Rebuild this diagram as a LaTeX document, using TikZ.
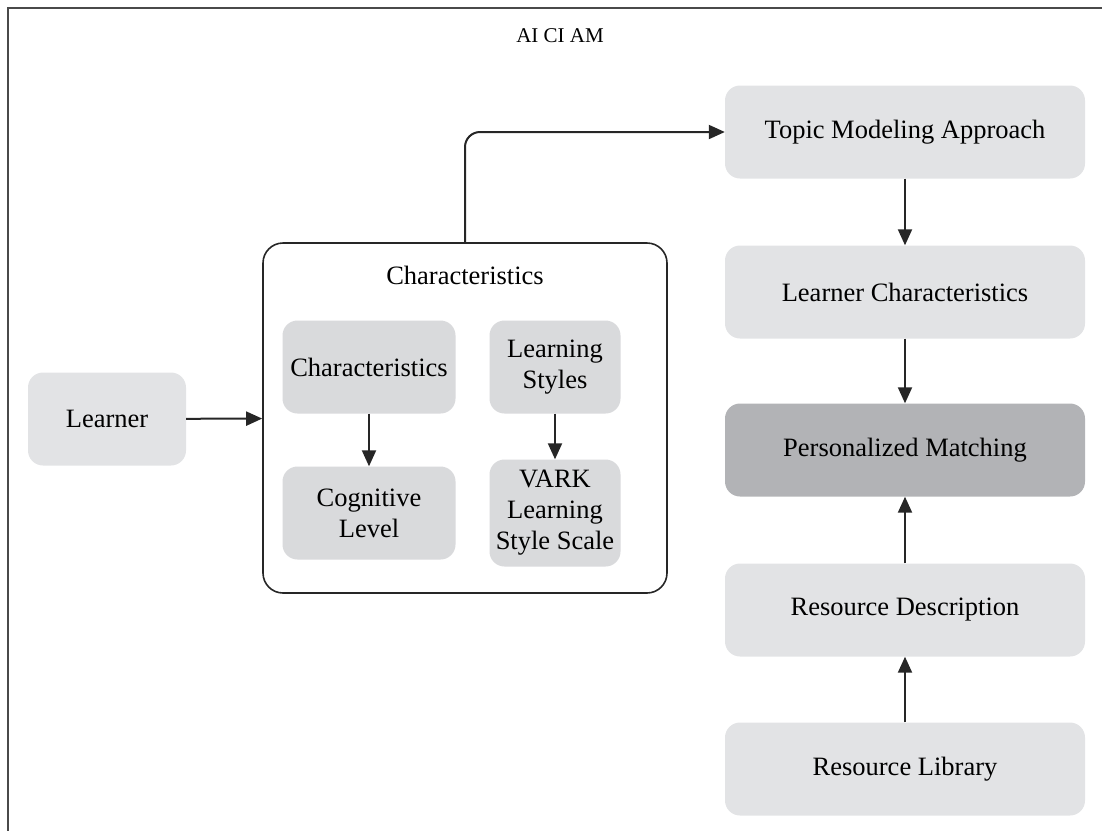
\documentclass[tikz,border=0pt]{standalone}
\usepackage{fontspec}
\setmainfont{Liberation Serif}
\usetikzlibrary{positioning,arrows.meta}
\definecolor{boxgray}{HTML}{E2E3E5}
\definecolor{innergray}{HTML}{D9DADC}
\definecolor{matchgray}{HTML}{B2B3B6}
\definecolor{framegray}{HTML}{4A4A4A}

\begin{document}
\begin{tikzpicture}[x=1pt,y=-1pt,
  box/.style={fill=boxgray,rounded corners=15pt,minimum width=360pt,minimum height=93pt,align=center,inner sep=0pt,font=\fontsize{26.5}{31}\selectfont},
  innerbox/.style={box,fill=innergray,minimum width=173pt},
  arr/.style={-{Triangle[length=16pt,width=14pt]},line width=2pt,black!85}]
\useasboundingbox (0,0) rectangle (1102,831);
% outer frame (cut at right and bottom)
\draw[framegray,line width=2.6pt] (1102,8) -- (8,8) -- (8,831);
\node[font=\fontsize{21}{25}\selectfont] (title) at (560,36) {AI CI AM};

% right column
\node[box] (topic) at (905,132) {Topic Modeling Approach};
\node[box] (lchar) at (905,292) {Learner Characteristics};
\node[box,fill=matchgray] (match) at (905,450) {Personalized Matching};
\node[box] (rdesc) at (905,610) {Resource Description};
\node[box] (rlib) at (905,769) {Resource Library};

% learner and its characteristics
\node[box,minimum width=158pt] (learner) at (107,419) {Learner};
\node[draw,line width=1.6pt,black!85,fill=white,rounded corners=20pt,minimum width=404pt,minimum height=350pt] (chars) at (465,418) {};
\node[font=\fontsize{26.5}{31}\selectfont] (chtitle) at (465,275) {Characteristics};
\node[innerbox] (ichar) at (369,367) {Characteristics};
\node[innerbox] (cogn) at (369,513) {Cognitive\\Level};
\node[innerbox,minimum width=131pt] (lstyle) at (555,367) {Learning\\Styles};
\node[innerbox,minimum width=131pt,minimum height=107pt] (vark) at (555,513) {VARK\\Learning\\Style Scale};

\draw[arr] (learner) -- (chars);
\draw[arr] (ichar) -- (cogn);
\draw[arr] (lstyle) -- (vark);
\draw[arr,rounded corners=15pt] (chars.north) |- (topic.west);
\draw[arr] (topic) -- (lchar);
\draw[arr] (lchar) -- (match);
\draw[arr] (rdesc) -- (match);
\draw[arr] (rlib) -- (rdesc);
\end{tikzpicture}
\end{document}
